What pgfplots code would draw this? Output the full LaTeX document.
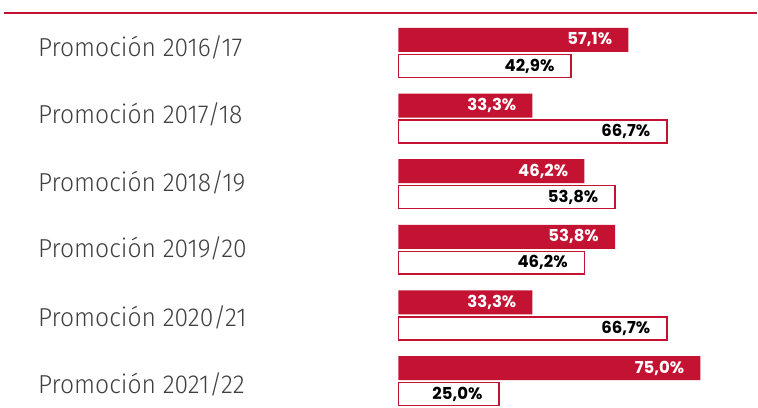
\documentclass[border=0pt]{standalone}
\usepackage{pgfplots}
\pgfplotsset{compat=1.18}
\usepackage{fontspec}
\setmainfont{Poppins}
\newfontfamily\labfont[FakeStretch=0.95]{Fira Sans Light}
\newfontfamily\valfont{Poppins}
\definecolor{ured}{RGB}{196,18,50}
\definecolor{lgray}{RGB}{64,64,64}
\tikzset{lab/.style={anchor=west, inner sep=0pt, text=lgray, font=\labfont\fontsize{26}{28}\selectfont}}
\begin{document}
\begin{tikzpicture}
\begin{axis}[
  scale only axis, width=758pt, height=408pt,
  hide axis, clip=false,
  xmin=-99, xmax=89.08, ymin=0, ymax=408, y dir=reverse,
  xbar, bar width=24pt, bar shift=0pt,
  point meta=explicit symbolic,
  nodes near coords,
  nodes near coords style={anchor=east, inner sep=0pt, xshift=-16pt, font=\valfont\bfseries\fontsize{16.5}{18}\selectfont},
]
\path (rel axis cs:0,0) rectangle (rel axis cs:1,1);
\draw[ured, line width=2pt] (axis cs:-98,13.5) -- (axis cs:89.08,13.5);
\addplot[fill=ured, draw=none, nodes near coords style={text=white}] coordinates {
 (57.1,40) [57,1\%]
 (33.3,105.7) [33,3\%]
 (46.2,171.4) [46,2\%]
 (53.8,237.1) [53,8\%]
 (33.3,302.8) [33,3\%]
 (75.0,368.5) [75,0\%]
};
\addplot[fill=white, draw=ured, line width=1.5pt, bar width=23pt, nodes near coords style={text=black}] coordinates {
 (42.9,66) [42,9\%]
 (66.7,131.7) [66,7\%]
 (53.8,197.4) [53,8\%]
 (46.2,263.1) [46,2\%]
 (66.7,328.8) [66,7\%]
 (25.0,394.5) [25,0\%]
};
\node[lab] at (axis cs:-89.6,47) {Promoción 2016/17};
\node[lab] at (axis cs:-89.6,115) {Promoción 2017/18};
\node[lab] at (axis cs:-89.6,183) {Promoción 2018/19};
\node[lab] at (axis cs:-89.6,249) {Promoción 2019/20};
\node[lab] at (axis cs:-89.6,318) {Promoción 2020/21};
\node[lab] at (axis cs:-89.6,385) {Promoción 2021/22};
\end{axis}
\end{tikzpicture}
\end{document}
